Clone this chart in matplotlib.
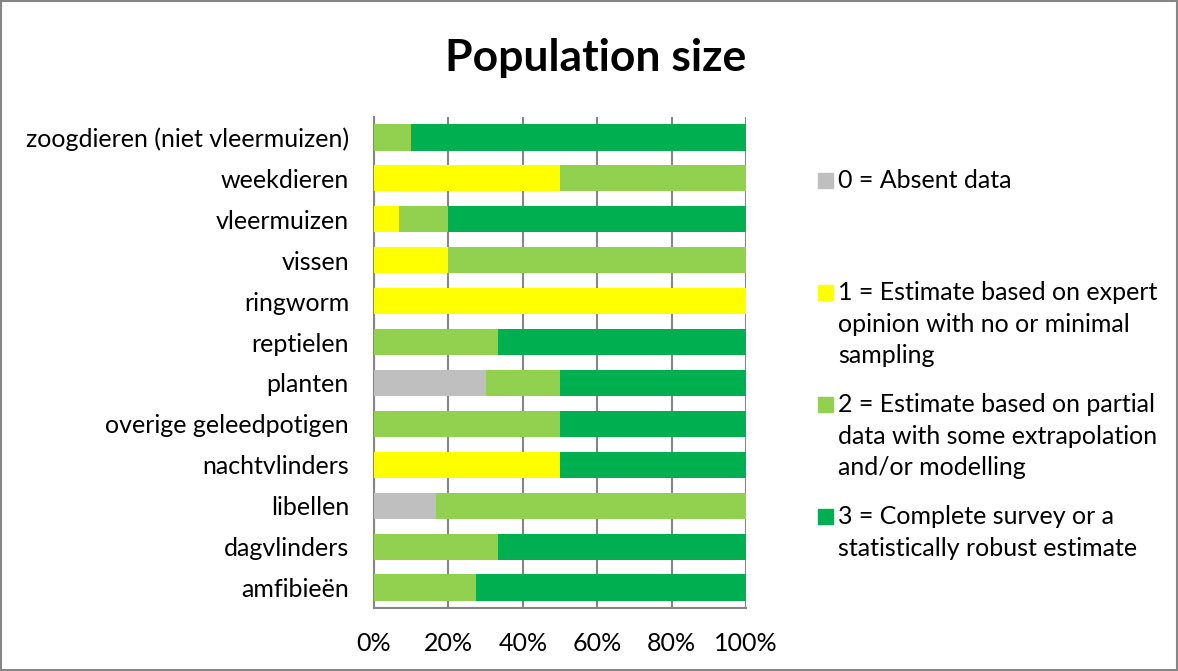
import matplotlib.pyplot as plt
import numpy as np
from matplotlib.patches import Rectangle

plt.rcParams["font.family"] = ["Lato", "DejaVu Sans"]

categories = [
    "zoogdieren (niet vleermuizen)",
    "weekdieren",
    "vleermuizen",
    "vissen",
    "ringworm",
    "reptielen",
    "planten",
    "overige geleedpotigen",
    "nachtvlinders",
    "libellen",
    "dagvlinders",
    "amfibieën",
]
# shares (%) per score class, same order as categories
absent = [0, 0, 0, 0, 0, 0, 30, 0, 0, 16.7, 0, 0]
expert = [0, 50, 6.7, 20, 100, 0, 0, 0, 50, 0, 0, 0]
partial = [10, 50, 13.3, 80, 0, 33.3, 20, 50, 0, 83.3, 33.3, 27.3]
complete = [90, 0, 80, 0, 0, 66.7, 50, 50, 50, 0, 66.7, 72.7]

labels = [
    "0 = Absent data",
    "1 = Estimate based on expert\nopinion with no or minimal\nsampling",
    "2 = Estimate based on partial\ndata with some extrapolation\nand/or modelling",
    "3 = Complete survey or a\nstatistically robust estimate",
]
colors = ["#BFBFBF", "#FFFF00", "#92D050", "#00B050"]

fig = plt.figure(figsize=(11.78, 6.71), dpi=100)
ax = fig.add_axes([374 / 1178, 1 - 608 / 671, 372 / 1178, 491 / 671])

y = np.arange(len(categories))[::-1]
left = np.zeros(len(categories))
for vals, col in zip([absent, expert, partial, complete], colors):
    vals = np.array(vals, dtype=float)
    ax.barh(y, vals, left=left, height=0.64, color=col, zorder=3)
    left += vals

ax.set_xlim(0, 100)
ax.set_ylim(-0.5, len(categories) - 0.5)
ax.set_xticks(np.arange(0, 101, 20))
ax.set_xticklabels([f"{v}%" for v in range(0, 101, 20)], fontsize=18)
ax.set_yticks(y)
ax.set_yticklabels(categories, fontsize=18)
ax.tick_params(length=0, pad=17, axis="x")
ax.tick_params(length=0, pad=18, axis="y")
ax.grid(axis="x", color="#868686", linewidth=1.5, zorder=0)
for side in ["top", "right"]:
    ax.spines[side].set_visible(False)
for side in ["left", "bottom"]:
    ax.spines[side].set_color("#868686")
    ax.spines[side].set_linewidth(1.5)

fig.text(596 / 1178, 1 - 58 / 671, "Population size", ha="center", va="center",
         fontsize=32, fontweight="bold")

# legend drawn by hand to keep the square aligned with the first text line
leg_y = [181, 293, 405, 517]
for lab, col, ly in zip(labels, colors, leg_y):
    fig.patches.append(Rectangle((818 / 1178, 1 - (ly + 7) / 671), 15 / 1178, 15 / 671,
                                 transform=fig.transFigure, color=col))
    fig.text(838 / 1178, 1 - (ly - 12) / 671, lab, ha="left", va="top",
             fontsize=18, linespacing=1.45)

fig.patches.append(Rectangle((0.001, 0.001), 0.998, 0.997, transform=fig.transFigure,
                             fill=False, edgecolor="#868686", linewidth=1.5))

fig.savefig("out.png", dpi=100)
